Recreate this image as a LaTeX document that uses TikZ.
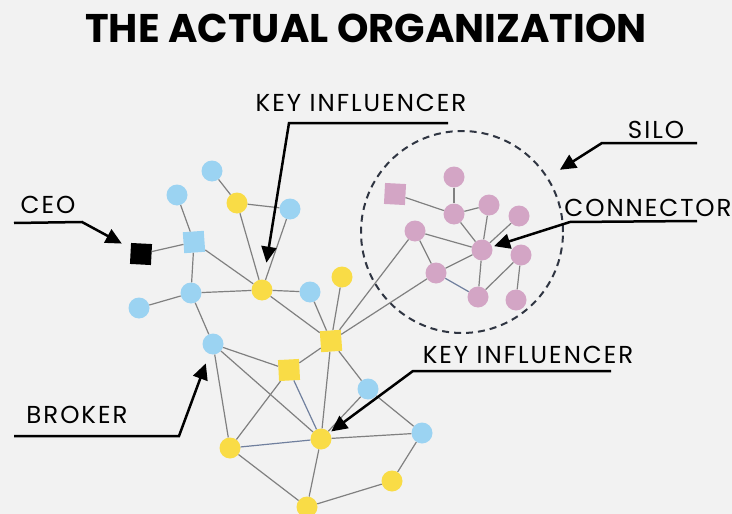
\documentclass[tikz,border=0pt]{standalone}
\usepackage{fontspec}
\setmainfont{Poppins}
\newfontfamily\captionfont[LetterSpace=8]{Poppins}
\usetikzlibrary{arrows.meta,shapes}
\definecolor{paper}{RGB}{242,242,242}
\definecolor{nodeblue}{RGB}{155,211,242}
\definecolor{nodeyellow}{RGB}{249,220,70}
\definecolor{nodepink}{RGB}{211,165,197}
\definecolor{linkgray}{RGB}{128,128,128}
\definecolor{linkslate}{RGB}{112,128,158}
\definecolor{siloline}{RGB}{47,53,66}
\tikzstyle{member}=[circle,minimum size=21pt,inner sep=0pt]
\tikzstyle{blue vertex}=[member,fill=nodeblue]
\tikzstyle{yellow vertex}=[member,fill=nodeyellow]
\tikzstyle{pink vertex}=[member,fill=nodepink]
\tikzstyle{boxed}=[rectangle,minimum size=21pt,inner sep=0pt]
\tikzstyle{link} = [draw,line width=1.2pt,linkgray]
\tikzstyle{slate link} = [draw,line width=1.2pt,linkslate]
\tikzstyle{callout} = [draw,line width=2.5pt,->,>={Triangle[length=16pt,width=15pt]}]
\tikzstyle{caption} = [font=\captionfont\fontsize{24.5}{28}\selectfont,inner sep=0pt]

\begin{document}
\begin{tikzpicture}[x=1pt,y=-1pt]
	\fill[paper] (0,0) rectangle (732,514);
	\useasboundingbox (0,0) rectangle (732,514);
	\node[font=\bfseries\fontsize{40}{44}\selectfont,inner sep=0pt] (title) at (366,28) {THE ACTUAL ORGANIZATION};
	% the silo boundary
	\node[circle,minimum size=202pt,draw=siloline,line width=2pt,dash pattern=on 7pt off 5pt] (silo) at (462,232) {};
	% draw the members
	\foreach \pos/\name in {{(212,171)/b1}, {(177,195)/b2}, {(290,209)/b3}, {(191,293)/b4},
	                        {(139,308)/b5}, {(310,292)/b6}, {(213,344)/b7}, {(368,389)/b8}, {(422,433)/b9}}
		\node[blue vertex] (\name) at \pos {};
	\foreach \pos/\name in {{(237,203)/y1}, {(262,290)/y2}, {(342,277)/y3}, {(230,448)/y4},
	                        {(321,439)/y5}, {(392,481)/y6}, {(307,507)/y7}}
		\node[yellow vertex] (\name) at \pos {};
	\foreach \pos/\name in {{(454,177)/p1}, {(454,214)/p2}, {(489,205)/p3}, {(519,216)/p4}, {(415,231)/p5},
	                        {(482,250)/p6}, {(521,255)/p7}, {(436,273)/p8}, {(478,297)/p9}, {(516,300)/p10}}
		\node[pink vertex] (\name) at \pos {};
	\node[boxed,fill=black,rotate=-3] (ceo) at (141,254) {};
	\node[boxed,fill=nodeblue,rotate=4] (bs) at (194,242) {};
	\node[boxed,fill=nodeyellow,rotate=4] (ys1) at (331,341) {};
	\node[boxed,fill=nodeyellow,rotate=3] (ys2) at (289,370) {};
	\node[boxed,fill=nodepink,rotate=-3] (ps) at (395,194) {};
	% connect the members
	\foreach \source/\dest in {b1/y1, y1/b3, y1/y2, b3/y2, b2/bs, ceo/bs, bs/b4, bs/y2, b4/y2,
	                           b4/b5, b4/b7, y2/b6, y2/ys1, b6/ys1, y3/ys1, ys1/p5, ys1/p8,
	                           b7/y4, b7/ys2, b7/y5, ys2/ys1, ys2/y4, ys1/y5, ys1/b8, b8/y5,
	                           b8/b9, y5/b9, y4/y7, y5/y7, y7/y6, y6/b9,
	                           ps/p2, p1/p2, p2/p3, p2/p6, p3/p6, p4/p6, p5/p6, p5/p8, p8/p6,
	                           p6/p9, p9/p7, p7/p10}
		\path[link] (\source) -- (\dest);
	\foreach \source/\dest in {ys2/y5, y4/y5, p8/p9}
		\path[slate link] (\source) -- (\dest);
	% captions
	\node[caption] (kitop) at (361,103) {KEY INFLUENCER};
	\node[caption] (ceotext) at (48,205) {CEO};
	\node[caption] (brokertext) at (77,415) {BROKER};
	\node[caption] (kibottom) at (528,355) {KEY INFLUENCER};
	\node[caption] (silotext) at (656,130) {SILO};
	\node[caption] (connectortext) at (648,208) {CONNECTOR};
	% underline ends and bends of the pointers
	\coordinate (kitop-end) at (448,123);
	\coordinate (kitop-bend) at (289,123);
	\coordinate (ceo-end) at (14,223);
	\coordinate (ceo-bend) at (82,222);
	\coordinate (broker-end) at (14,436);
	\coordinate (broker-bend) at (179,436);
	\coordinate (kibottom-end) at (611,371);
	\coordinate (kibottom-bend) at (413,371);
	\coordinate (silo-end) at (697,143);
	\coordinate (silo-bend) at (602,143);
	\coordinate (connector-end) at (697,221);
	\coordinate (connector-bend) at (570,222);
	\path[callout,shorten >=17pt] (kitop-end) -- (kitop-bend) -- (y2);
	\path[callout,shorten >=10pt] (ceo-end) -- (ceo-bend) -- (ceo);
	\path[callout,shorten >=10pt] (broker-end) -- (broker-bend) -- (b7);
	\path[callout,shorten >=2pt] (kibottom-end) -- (kibottom-bend) -- (y5);
	\path[callout,shorten >=14pt] (silo-end) -- (silo-bend) -- (silo);
	\path[callout,shorten >=2pt] (connector-end) -- (connector-bend) -- (p6);
\end{tikzpicture}
\end{document}
